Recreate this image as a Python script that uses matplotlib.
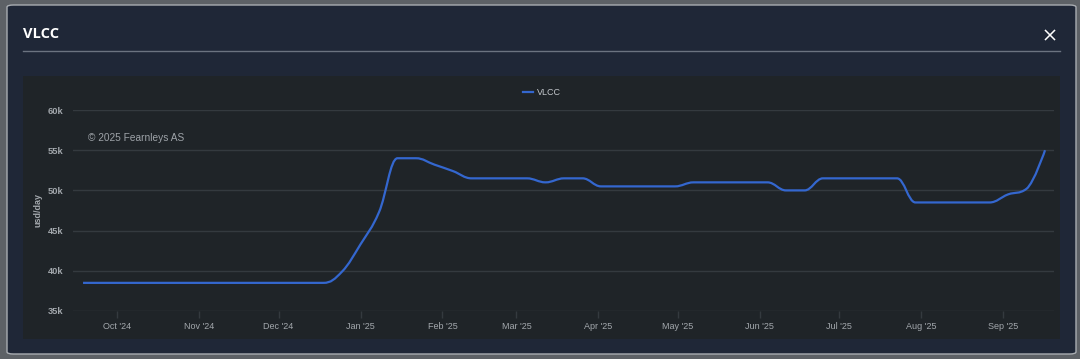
import datetime as dt
import matplotlib
matplotlib.use("Agg")
import matplotlib.pyplot as plt
import matplotlib.dates as mdates
from matplotlib.path import Path
from matplotlib.patches import PathPatch, FancyBboxPatch, Rectangle
from matplotlib.lines import Line2D
from matplotlib.ticker import FuncFormatter, MultipleLocator

plt.rcParams['font.family'] = ['Liberation Sans', 'DejaVu Sans']

# weekly VLCC rates (usd/day), Wednesdays from 18 Sep 2024
start_date = dt.date(2024, 9, 18)
vlcc_rates = [
    38500, 38500, 38500, 38500, 38500, 38500, 38500, 38500, 38500, 38500,
    38500, 38500, 38500, 38500,                  # to 18 Dec
    39900, 43300, 47300, 54000, 54000, 53200,    # 25 Dec - 29 Jan
    52400, 51500, 51500, 51500,                  # Feb
    51500, 51000, 51500, 51500,                  # Mar
    50500, 50500, 50500, 50500, 50500,           # Apr
    51000, 51000, 51000, 51000,                  # May
    51000, 50000, 50000, 51500,                  # Jun
    51500, 51500, 51500, 51500, 48500,           # Jul
    48500, 48500, 48500, 48500,                  # Aug
    49500, 50200, 55000,                         # Sep
]
week_dates = [start_date + dt.timedelta(weeks=i) for i in range(len(vlcc_rates))]

series_name = "VLCC"
y_title = "usd/day"
credit = "\u00a9 2025 Fearnleys AS"

W, H = 1080, 359
OUTER = "#5d6166"
MODAL = "#1f2737"
PANEL = "#1f2428"
GRID = "#343a3f"
TXT = "#a3a8ad"
LINE = "#3467cf"


def fx(x):
    return x / W


def fy(y):
    return 1 - y / H


def spline_path(xs, ys):
    # same smoothing as a highcharts "spline" series
    n = len(xs)
    lc = [None] * n
    rc = [None] * n
    rc[0] = (xs[0], ys[0])
    lc[-1] = (xs[-1], ys[-1])
    for i in range(1, n - 1):
        x, y = xs[i], ys[i]
        px, py = xs[i - 1], ys[i - 1]
        nx, ny = xs[i + 1], ys[i + 1]
        lcx, lcy = (1.5 * x + px) / 2.5, (1.5 * y + py) / 2.5
        rcx, rcy = (1.5 * x + nx) / 2.5, (1.5 * y + ny) / 2.5
        if rcx != lcx:
            corr = ((rcy - lcy) * (rcx - x)) / (rcx - lcx) + y - rcy
            lcy += corr
            rcy += corr
        if lcy > py and lcy > y:
            lcy = max(py, y); rcy = 2 * y - lcy
        elif lcy < py and lcy < y:
            lcy = min(py, y); rcy = 2 * y - lcy
        if rcy > ny and rcy > y:
            rcy = max(ny, y); lcy = 2 * y - rcy
        elif rcy < ny and rcy < y:
            rcy = min(ny, y); lcy = 2 * y - rcy
        lc[i] = (lcx, lcy)
        rc[i] = (rcx, rcy)
    verts = [(xs[0], ys[0])]
    codes = [Path.MOVETO]
    for i in range(1, n):
        verts += [rc[i - 1], lc[i], (xs[i], ys[i])]
        codes += [Path.CURVE4] * 3
    return Path(verts, codes)


fig = plt.figure(figsize=(W / 100, H / 100), dpi=100)
fig.patch.set_facecolor(OUTER)

# modal window
fig.patches.append(FancyBboxPatch((fx(7), fy(354)), fx(1076) - fx(7), fy(5) - fy(354),
                                  boxstyle="round,pad=0,rounding_size=0.006",
                                  transform=fig.transFigure, facecolor=MODAL,
                                  edgecolor="#a9adb2", linewidth=1.0, zorder=-3))
fig.text(fx(23), fy(34.5), series_name, color="white", fontsize=10.5, fontweight="bold",
         family=["Open Sans", "DejaVu Sans"], va="center", ha="left")
fig.lines.append(Line2D([fx(23), fx(1060)], [fy(51), fy(51)], transform=fig.transFigure,
                        color="#6b7380", linewidth=1.0))
# close cross
for a, b in [((1045.5, 30.5), (1054.5, 39.5)), ((1045.5, 39.5), (1054.5, 30.5))]:
    fig.lines.append(Line2D([fx(a[0]), fx(b[0])], [fy(a[1]), fy(b[1])],
                            transform=fig.transFigure, color="white", linewidth=1.1))

# chart panel
fig.patches.append(Rectangle((fx(23), fy(339)), fx(1060) - fx(23), fy(76) - fy(339),
                             transform=fig.transFigure, facecolor=PANEL,
                             edgecolor="none", zorder=-2))

ax = fig.add_axes([fx(73), fy(311), fx(1054) - fx(73), fy(110) - fy(311)])
ax.set_facecolor("none")

xnum = [mdates.date2num(d) for d in week_dates]
ax.add_patch(PathPatch(spline_path(xnum, vlcc_rates), facecolor="none",
                       edgecolor=LINE, linewidth=1.6, zorder=3))

oct1 = mdates.date2num(dt.date(2024, 10, 1))
ax.set_xlim(oct1 - 16.8, oct1 + 354.4)
ax.set_ylim(35000, 60000)

ax.yaxis.set_major_locator(MultipleLocator(5000))
ax.yaxis.set_major_formatter(FuncFormatter(lambda v, p: f"{v / 1000:.0f}k"))
ax.xaxis.set_major_locator(mdates.MonthLocator())
ax.xaxis.set_major_formatter(mdates.DateFormatter("%b '%y"))

ax.grid(axis="y", color=GRID, linewidth=1.0)
for s in ax.spines.values():
    s.set_visible(False)
ax.tick_params(axis="x", length=5, width=1, color=GRID, pad=3, labelsize=6.5, labelcolor=TXT)
ax.tick_params(axis="y", length=0, pad=7, labelsize=6.7, labelcolor=TXT)
for lab in ax.get_yticklabels():
    lab.set_fontweight("bold")

fig.text(fx(38), fy(210), y_title, rotation=90, color=TXT, fontsize=6.5,
         fontweight="bold", ha="center", va="center")
fig.text(fx(88), fy(138), credit, color="#9ea3a8", fontsize=7.3, ha="left", va="center")

# legend
fig.lines.append(Line2D([fx(523), fx(533)], [fy(92), fy(92)], transform=fig.transFigure,
                        color=LINE, linewidth=1.6))
fig.text(fx(537), fy(92.5), series_name, color="#c3c7cc", fontsize=6.5, ha="left", va="center")

fig.savefig("out.png", dpi=100, facecolor=fig.get_facecolor())
